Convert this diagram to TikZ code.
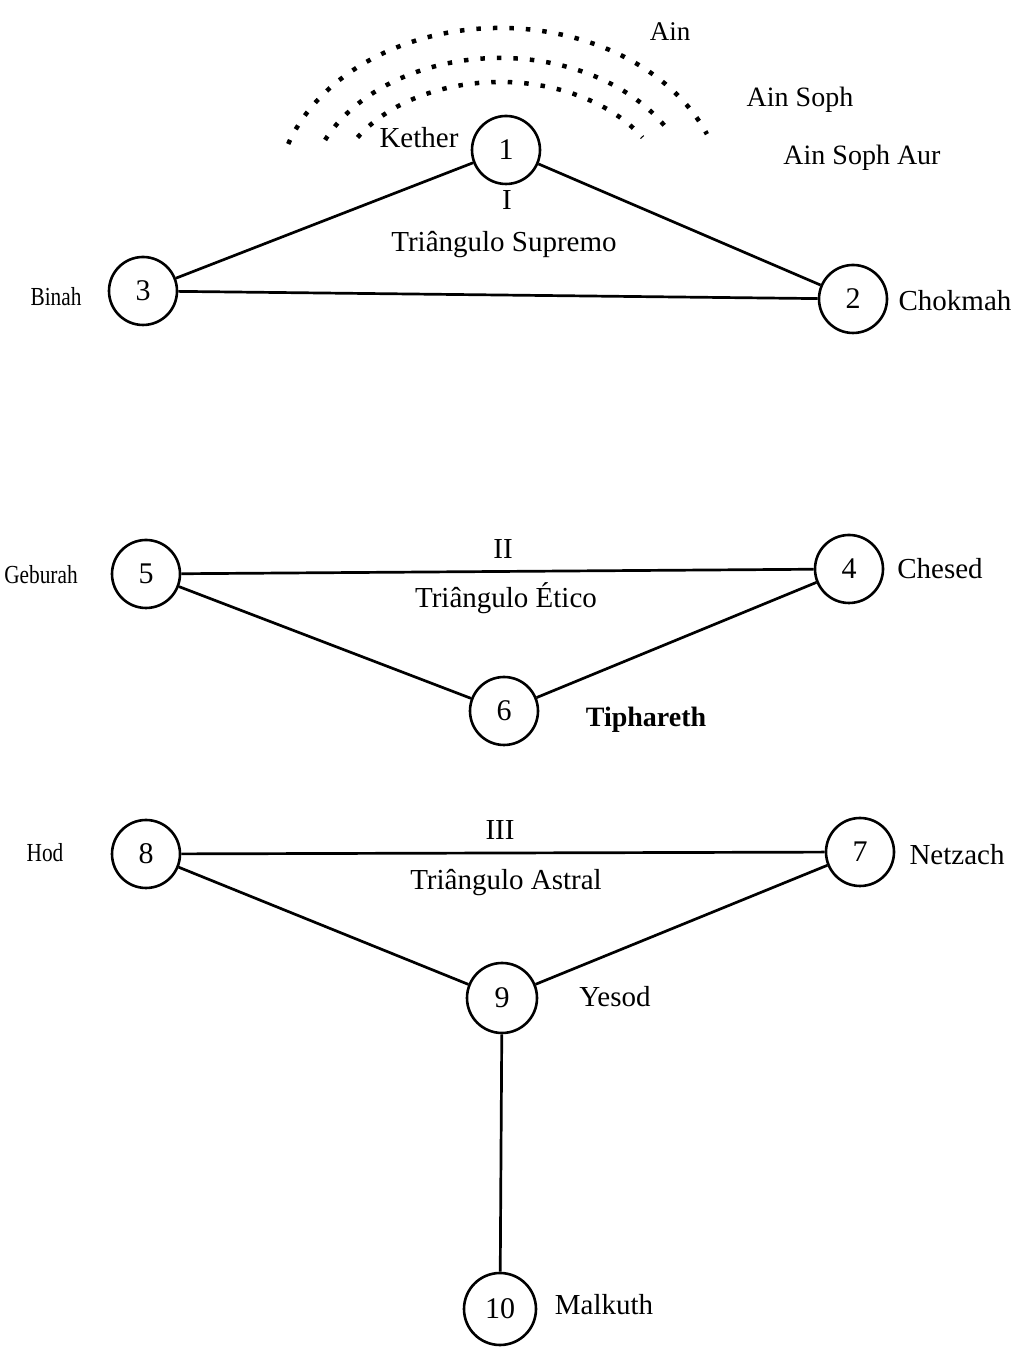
\documentclass[tikz,border=0pt]{standalone}
\usepackage{fontspec}
\setmainfont{Liberation Serif}
\begin{document}
\begin{tikzpicture}[x=1pt,y=1pt,
  sefira/.style={circle,draw,line width=2.6pt,minimum size=68pt,inner sep=0pt,font=\fontsize{30}{32}\selectfont},
  lbl/.style={inner sep=0pt,font=\fontsize{29}{32}\selectfont},
  smalllbl/.style={inner sep=0pt,font=\fontsize{26}{28}\selectfont,xscale=0.82},
  path/.style={line width=2.7pt},
  dotarc/.style={line width=4.5pt,dash pattern=on 4.5pt off 12pt}
]
\useasboundingbox (0,0) rectangle (1033,1359);
% dotted arcs
\draw[dotarc] (500,1159) ++(161:224 and 172) arc[start angle=161,end angle=22.5,x radius=224,y radius=172];
\draw[dotarc] (500,1159) ++(155:193 and 142) arc[start angle=155,end angle=29.5,x radius=193,y radius=142];
\draw[dotarc] (500,1159) ++(148:168 and 118) arc[start angle=148,end angle=32,x radius=168,y radius=118];
% sefirot
\node[sefira] (n1) at (506,1209) {1};
\node[sefira] (n3) at (143,1068) {3};
\node[sefira] (n2) at (853,1060) {2};
\node[sefira] (n5) at (146,785) {5};
\node[sefira] (n4) at (849,790) {4};
\node[sefira] (n6) at (504,648) {6};
\node[sefira] (n8) at (146,505) {8};
\node[sefira] (n7) at (860,507) {7};
\node[sefira,minimum size=70pt] (n9) at (502,361) {9};
\node[sefira,minimum size=72pt] (n10) at (500,50) {10};
% paths
\draw[path] (n1) -- (n3);
\draw[path] (n1) -- (n2);
\draw[path] (n3) -- (n2);
\draw[path] (n5) -- (n4);
\draw[path] (n5) -- (n6);
\draw[path] (n6) -- (n4);
\draw[path] (n8) -- (n7);
\draw[path] (n8) -- (n9);
\draw[path] (n9) -- (n7);
\draw[path] (n9) -- (n10);
% labels
\node[lbl,font=\fontsize{27}{30}\selectfont] (ain) at (670,1327) {Ain};
\node[lbl,font=\fontsize{28}{30}\selectfont] (ainsoph) at (800,1259) {Ain Soph};
\node[lbl,font=\fontsize{28}{30}\selectfont] (ainsophaur) at (862,1201) {Ain Soph Aur};
\node[lbl] (kether) at (419,1221) {Kether};
\node[lbl] (t1) at (507,1159) {I};
\node[lbl] (tri1) at (504,1114) {Triângulo Supremo};
\node[smalllbl] (binah) at (56,1062) {Binah};
\node[lbl] (chokmah) at (955,1058) {Chokmah};
\node[smalllbl] (geburah) at (41,784) {Geburah};
\node[lbl] (t2) at (503,810) {II};
\node[lbl] (chesed) at (940,790) {Chesed};
\node[lbl] (tri2) at (506,761) {Triângulo Ético};
\node[lbl,font=\bfseries\fontsize{28}{30}\selectfont] (tiphareth) at (646,639) {Tiphareth};
\node[smalllbl] (hod) at (45,506) {Hod};
\node[lbl] (t3) at (500,529) {III};
\node[lbl] (netzach) at (957,504) {Netzach};
\node[lbl] (tri3) at (506,476) {Triângulo Astral};
\node[lbl] (yesod) at (615,362) {Yesod};
\node[lbl] (malkuth) at (604,54) {Malkuth};
\end{tikzpicture}
\end{document}
